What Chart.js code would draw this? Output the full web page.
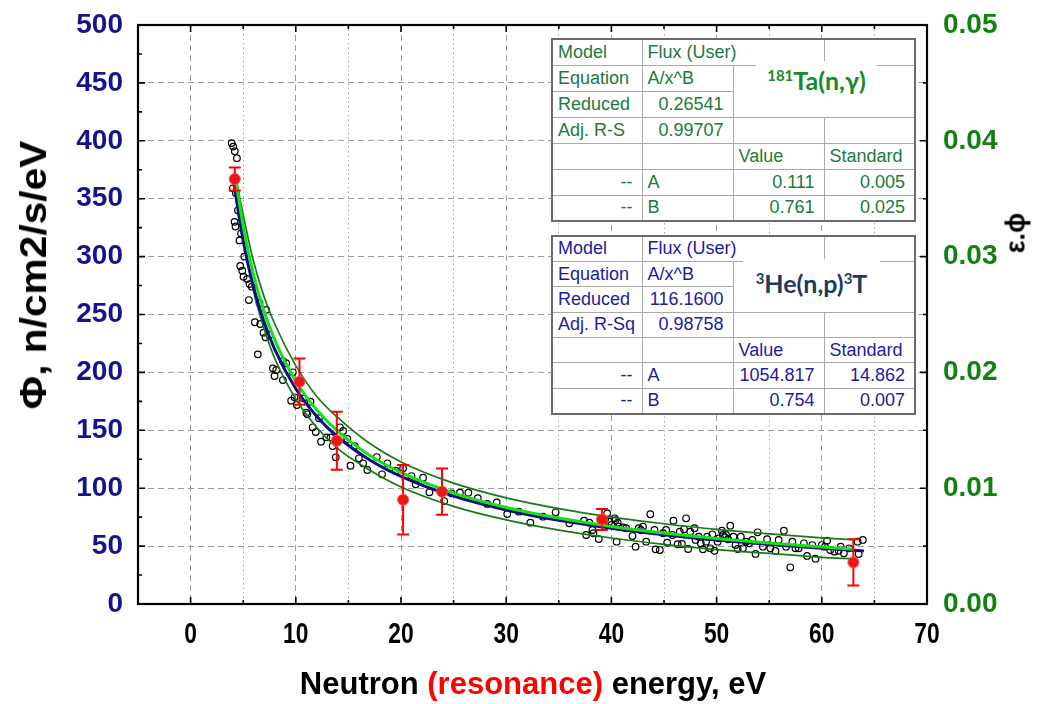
<!DOCTYPE html>
<html>
<head>
<meta charset="utf-8">
<script src="https://cdn.jsdelivr.net/npm/chart.js@4/dist/chart.umd.min.js"></script>
<style>
  body { margin: 0; background: #fff; }
  #wrap { position: relative; width: 1045px; height: 704px; overflow: hidden; }
  #c { position: absolute; left: 0; top: 0; }
  .ttl { position: absolute; font-family: "Liberation Sans", Arial, sans-serif; font-weight: bold; white-space: nowrap; color: #000; }
  #yl { left: 34px; top: 275px; font-size: 37px; transform: translate(-50%, -50%) rotate(-90deg) scale(1.1, 1); }
  #yr { left: 1016px; top: 233px; font-size: 27px; transform: translate(-50%, -50%) rotate(-90deg); }
  #xl { left: 533px; top: 684px; font-size: 31px; transform: translate(-50%, -50%); }
  #xl span { color: #ff0000; }
  table.fit { position: absolute; border-collapse: collapse; table-layout: fixed; background: #fff;
    font-family: "Liberation Sans", Arial, sans-serif; font-size: 18px; border: 2px solid #6b6b6b; }
  table.fit td { border: 1px solid #a9a9a9; padding: 0 5px; white-space: nowrap; overflow: visible; }
  table.fit td.r { text-align: right; padding-right: 9px; }
  table.ta { left: 551px; top: 38px; color: #1b7a3c; }
  table.ta tr { height: 26px; }
  table.he { left: 551px; top: 235px; color: #1c1ca0; }
  table.he tr { height: 25.4px; }
  .lab { position: absolute; background: #fff; text-align: center; font-family: Lato, "Open Sans", sans-serif;
    font-weight: bold; font-size: 25px; white-space: nowrap; }
  .lab sup { font-size: 15px; vertical-align: 9px; line-height: 0; }
</style>
</head>
<body>
<div id="wrap">
  <canvas id="c" width="1045" height="704"></canvas>
  <div class="ttl" id="yl">Φ, n/cm2/s/eV</div>
  <div class="ttl" id="yr">ε.ϕ</div>
  <div class="ttl" id="xl">Neutron <span>(resonance)</span> energy, eV</div>

  <table class="fit ta">
    <colgroup><col style="width:90px"><col style="width:91px"><col style="width:91px"><col style="width:91px"></colgroup>
    <tr><td>Model</td><td colspan="2">Flux (User)</td><td></td></tr>
    <tr><td>Equation</td><td>A/x^B</td><td colspan="2" rowspan="2"></td></tr>
    <tr><td>Reduced</td><td class="r">0.26541</td></tr>
    <tr><td>Adj. R-S</td><td class="r">0.99707</td><td></td><td></td></tr>
    <tr><td></td><td></td><td>Value</td><td>Standard</td></tr>
    <tr><td class="r">--</td><td>A</td><td class="r">0.111</td><td class="r">0.005</td></tr>
    <tr><td class="r">--</td><td>B</td><td class="r">0.761</td><td class="r">0.025</td></tr>
  </table>
  <div class="lab" style="left:756px;top:61px;width:121px;height:38px;line-height:38px;color:#1b8a2a"><sup>181</sup>Ta(n,γ)</div>

  <table class="fit he">
    <colgroup><col style="width:90px"><col style="width:91px"><col style="width:91px"><col style="width:91px"></colgroup>
    <tr><td>Model</td><td colspan="2">Flux (User)</td><td></td></tr>
    <tr><td>Equation</td><td>A/x^B</td><td colspan="2" rowspan="2"></td></tr>
    <tr><td>Reduced</td><td class="r">116.1600</td></tr>
    <tr><td>Adj. R-Sq</td><td class="r">0.98758</td><td></td><td></td></tr>
    <tr><td></td><td></td><td>Value</td><td>Standard</td></tr>
    <tr><td class="r">--</td><td>A</td><td class="r">1054.817</td><td class="r">14.862</td></tr>
    <tr><td class="r">--</td><td>B</td><td class="r">0.754</td><td class="r">0.007</td></tr>
  </table>
  <div class="lab" style="left:743px;top:259px;width:137px;height:48px;line-height:48px;color:#1f3a60"><sup>3</sup>He(n,p)<sup>3</sup>T</div>
</div>

<script>
// Measured flux points (open circles): neutron energy, eV and flux
const energyEv = [
  3.9, 4.05, 4.2, 4.4, 4.02, 4.3, 4.5, 4.18, 4.27, 4.65, 4.8, 5.1, 4.72, 4.91, 5.03, 5.38, 5.6, 5.82, 5.54, 6.55,
  7.19, 6.11, 6.62, 6.93, 7.12, 7.5, 6.39, 7.82, 8.14, 7.98, 8.77, 9.09, 8.77, 9.72, 9.56, 9.88, 10.1, 11.0, 11.1, 11.4,
  10.7, 11.6, 11.9, 12.2, 12.4, 12.9, 13.3, 13.5, 13.8, 14.2, 14.5, 14.9, 15.6, 15.2, 16.0, 16.4, 16.8, 17.7, 18.2, 18.7,
  19.5, 20.2, 21.0, 21.4, 22.1, 22.7, 24.1, 24.8, 25.6, 26.4, 27.3, 28.2, 29.1, 30.1, 31.2, 32.3, 33.5, 34.7, 36.0, 37.4,
  37.6, 37.9, 38.2, 38.3, 38.8, 39.2, 39.4, 39.6, 39.8, 40.0, 40.3, 40.4, 40.6, 40.7, 40.5, 41.1, 41.4, 42.0, 42.3, 42.6,
  42.8, 43.0, 43.3, 43.7, 44.1, 44.2, 44.6, 44.9, 45.2, 45.3, 45.8, 45.9, 46.3, 46.5, 46.7, 46.9, 47.1, 47.3, 47.5, 47.9,
  48.0, 48.3, 48.5, 48.7, 49.0, 49.1, 49.4, 49.6, 49.8, 50.1, 50.2, 50.5, 50.6, 50.8, 50.9, 51.1, 51.3, 51.6, 51.8, 52.0,
  52.3, 52.5, 52.8, 53.1, 53.4, 53.7, 53.9, 54.4, 54.8, 55.1, 55.6, 55.9, 56.4, 56.6, 57.0, 57.2, 57.5, 57.8, 58.3, 58.6,
  59.1, 59.4, 60.0, 60.3, 60.5, 60.8, 61.2, 61.6, 61.8, 62.1, 62.6, 63.4, 63.5, 63.9
];
const fluxMeas = [
  398, 395, 391, 385, 359, 355, 340, 330, 326, 314, 320, 300, 291.9, 287.8, 282.6, 280.7, 276.3, 274.0, 262.5, 260,
  254, 243.3, 241.8, 234.3, 230.3, 232.3, 215.6, 203.5, 202.1, 196.9, 209.8, 207.9, 193.4, 200.1, 175.6, 178.5, 171.8, 165.2, 163.8, 174.7,
  177.6, 152.6, 148.5, 160.4, 140.2, 143.9, 143.9, 136.4, 126.7, 152.6, 149.4, 142.5, 136.4, 119.4, 125.8, 121.5, 115.7, 126.9, 112.0, 121.5,
  115.1, 117.2, 110.5, 103.4, 109.1, 96.5, 88.9, 95.6, 96.1, 96.1, 91.3, 86.4, 87.8, 77.7, 79.7, 70.2, 75.4, 79.2, 69.7, 71.9,
  59.6, 70.2, 63.9, 61.1, 56.1, 71.1, 73.1, 78.3, 71.1, 68.2, 74.0, 72.5, 70.2, 66.8, 53.8, 66.2, 65.4, 58.7, 49.5, 65.4,
  63.9, 66.8, 53.8, 77.5, 63.9, 47.2, 46.6, 61.1, 63.9, 52.9, 59.6, 71.9, 51.6, 62.4, 51.8, 64.5, 74.0, 47.5, 62.4, 65.4,
  55.3, 58.1, 52.4, 47.2, 53.8, 58.1, 48.1, 60.2, 46.0, 53.8, 56.7, 63.3, 59.6, 57.6, 59.6, 55.9, 67.6, 58.1, 50.9, 47.5,
  58.1, 48.1, 53.8, 52.4, 55.3, 43.2, 61.9, 49.5, 55.9, 48.1, 45.8, 55.3, 63.3, 49.5, 31.7, 53.8, 48.1, 48.1, 52.4, 41.5,
  50.9, 39.1, 50.9, 49.5, 54.7, 46.6, 45.2, 46.0, 49.5, 43.8, 48.1, 53.8, 43.2, 55.3
];

// Resonance points (red) with their error bars
const resEnergy = [4.2, 10.35, 13.9, 20.2, 23.9, 39.1, 63.0];
const resFlux = [367, 192, 141, 90, 97, 73, 36];
const resErr = [10, 20, 25, 30, 20, 9, 20];

// 3He(n,p)3T fit, A/x^B (navy)
const heFitX = [4.1, 5, 6, 7, 8, 10, 12, 14, 17, 20, 25, 30, 35, 40, 45, 50, 55, 60, 64];
const heFitY = [364.0, 313.5, 273.2, 243.2, 219.9, 185.9, 162.0, 144.2, 124.6, 110.2, 93.1, 81.2, 72.2, 65.4, 59.8, 55.2, 51.4, 48.1, 45.8];

// 181Ta(n,γ) fit on the ε.ϕ axis (bright green) and its band (dark green)
const taFitX = [4.2, 5, 6, 7, 8, 10, 12, 14, 17, 20, 25, 30, 35, 40, 45, 50, 55, 60, 63];
const taFitY = [0.03725, 0.03262, 0.02839, 0.02524, 0.02281, 0.01924, 0.01675, 0.0149, 0.01285, 0.01136, 0.00958, 0.00834, 0.00742, 0.0067, 0.00613, 0.00565, 0.00526, 0.00492, 0.00474];
const taUpper = [0.03725, 0.0336, 0.02953, 0.0265, 0.02418, 0.02059, 0.01792, 0.01609, 0.01388, 0.01227, 0.01044, 0.00917, 0.00824, 0.0075, 0.00693, 0.00644, 0.00605, 0.00571, 0.00555];
const taLower = [0.03725, 0.03164, 0.02697, 0.02373, 0.02121, 0.0177, 0.01524, 0.01341, 0.01157, 0.01011, 0.00843, 0.00726, 0.00638, 0.0057, 0.00515, 0.00469, 0.00437, 0.00403, 0.00389];

const pts = (xs, ys) => xs.map((x, i) => ({ x, y: ys[i] }));

const TICK_FONT = { family: "'Liberation Sans', Arial, sans-serif", size: 28, weight: "bold" };
const GRID_GREY = "#9c9c9c";

/** y scales: keep their label overhang out of the layout so the plot top sits at the padding. */
function fixYScale(width) {
  return (s) => {
    s.width = width;
    s.paddingTop = 0;
    s.paddingBottom = 0;
  };
}

/** Error bars (under the red dots), narrow x labels, black frame and inward tick marks. */
const frameTicks = {
  id: "frameTicks",
  beforeDatasetDraw(chart, args) {
    if (args.index !== 0) return;
    const { ctx, scales: { x, y } } = chart;
    ctx.save();
    ctx.strokeStyle = "#ff0000";
    ctx.lineWidth = 2;
    resEnergy.forEach((e, i) => {
      const px = x.getPixelForValue(e);
      const top = y.getPixelForValue(resFlux[i] + resErr[i]);
      const bot = y.getPixelForValue(resFlux[i] - resErr[i]);
      ctx.beginPath();
      ctx.moveTo(px, top); ctx.lineTo(px, bot);
      ctx.moveTo(px - 6, top); ctx.lineTo(px + 6, top);
      ctx.moveTo(px - 6, bot); ctx.lineTo(px + 6, bot);
      ctx.stroke();
    });
    ctx.restore();
  },
  afterDraw(chart) {
    const { ctx, chartArea: a, scales } = chart;
    ctx.save();
    // condensed bold x tick labels
    ctx.fillStyle = "#000";
    ctx.font = "bold 30px 'Liberation Sans', Arial, sans-serif";
    ctx.textAlign = "center";
    ctx.textBaseline = "middle";
    scales.x.ticks.forEach((t) => {
      ctx.save();
      ctx.translate(scales.x.getPixelForValue(t.value), a.bottom + 31);
      ctx.scale(0.76, 1);
      ctx.fillText(t.label, 0, 0);
      ctx.restore();
    });

    ctx.strokeStyle = "#000";
    ctx.lineWidth = 1.6;
    ctx.beginPath();
    scales.x2.ticks.forEach((t) => {
      const px = scales.x2.getPixelForValue(t.value);
      const len = t.value % 10 === 0 ? 7 : 4;
      ctx.moveTo(px, a.bottom); ctx.lineTo(px, a.bottom - len);
      ctx.moveTo(px, a.top); ctx.lineTo(px, a.top + len);
    });
    [["y", a.left, 1], ["y2", a.right, -1]].forEach(([id, edge, dir]) => {
      const s = scales[id];
      s.ticks.forEach((t, i) => {
        const py = s.getPixelForValue(t.value);
        ctx.moveTo(edge, py); ctx.lineTo(edge + dir * 7, py);
        if (i > 0) {
          const mid = (py + s.getPixelForValue(s.ticks[i - 1].value)) / 2;
          ctx.moveTo(edge, mid); ctx.lineTo(edge + dir * 4, mid);
        }
      });
    });
    ctx.stroke();
    ctx.lineWidth = 2.2;
    ctx.strokeRect(a.left, a.top, a.right - a.left, a.bottom - a.top);
    ctx.restore();
  },
};

new Chart(document.getElementById("c"), {
  type: "scatter",
  data: {
    datasets: [
      {
        label: "resonance",
        data: pts(resEnergy, resFlux),
        yAxisID: "y",
        order: 0,
        pointRadius: 5.5,
        backgroundColor: "#f01414",
        borderColor: "#ff5050",
        borderWidth: 1,
      },
      {
        type: "line",
        label: "181Ta fit",
        data: pts(taFitX, taFitY),
        yAxisID: "y2",
        order: 1,
        borderColor: "#16e016",
        borderWidth: 3,
        pointRadius: 0,
        cubicInterpolationMode: "monotone",
      },
      {
        type: "line",
        label: "3He fit",
        data: pts(heFitX, heFitY),
        yAxisID: "y",
        order: 2,
        borderColor: "#0e0e86",
        borderWidth: 3,
        pointRadius: 0,
        cubicInterpolationMode: "monotone",
      },
      {
        type: "line",
        label: "upper",
        data: pts(taFitX, taUpper),
        yAxisID: "y2",
        order: 3,
        borderColor: "#167a16",
        borderWidth: 1.7,
        pointRadius: 0,
        cubicInterpolationMode: "monotone",
      },
      {
        type: "line",
        label: "lower",
        data: pts(taFitX, taLower),
        yAxisID: "y2",
        order: 3,
        borderColor: "#167a16",
        borderWidth: 1.7,
        pointRadius: 0,
        cubicInterpolationMode: "monotone",
      },
      {
        label: "flux",
        data: pts(energyEv, fluxMeas),
        yAxisID: "y",
        order: 5,
        pointRadius: 3.3,
        borderWidth: 1.2,
        borderColor: "#000",
        backgroundColor: "rgba(0,0,0,0)",
      },
    ],
  },
  options: {
    responsive: false,
    animation: false,
    layout: { padding: { top: 25, left: 0, right: 0, bottom: 0 } },
    plugins: { legend: { display: false }, tooltip: { enabled: false } },
    scales: {
      x: {
        type: "linear",
        position: "bottom",
        min: -5,
        max: 70,
        ticks: { stepSize: 10, includeBounds: false, display: false },
        grid: { color: GRID_GREY, lineWidth: 1, drawTicks: false, tickLength: 0 },
        border: { display: false, dash: [6, 4] },
        afterFit(s) { s.height = 100; },
      },
      x2: {
        type: "linear",
        position: "bottom",
        min: -5,
        max: 70,
        ticks: { display: false, stepSize: 5, includeBounds: false },
        grid: {
          color: (c) => (c.tick && c.tick.value % 10 === 0 ? "rgba(0,0,0,0)" : "#a8a8a8"),
          lineWidth: 1,
          drawTicks: false,
          tickLength: 0,
        },
        border: { display: false, dash: [1.5, 3] },
        afterFit(s) { s.height = 0; },
      },
      y: {
        position: "left",
        min: 0,
        max: 500,
        ticks: { stepSize: 50, color: "#14148c", padding: 15, font: TICK_FONT },
        grid: { color: GRID_GREY, lineWidth: 1, drawTicks: false, tickLength: 0 },
        border: { display: false, dash: [6, 4] },
        afterFit: fixYScale(138),
      },
      y2: {
        position: "right",
        min: 0,
        max: 0.05,
        ticks: { stepSize: 0.01, color: "#138013", padding: 16, font: TICK_FONT, callback: (v) => v.toFixed(2) },
        grid: { display: false, drawTicks: false, tickLength: 0 },
        border: { display: false },
        afterFit: fixYScale(118),
      },
    },
  },
  plugins: [frameTicks],
});
</script>
</body>
</html>
